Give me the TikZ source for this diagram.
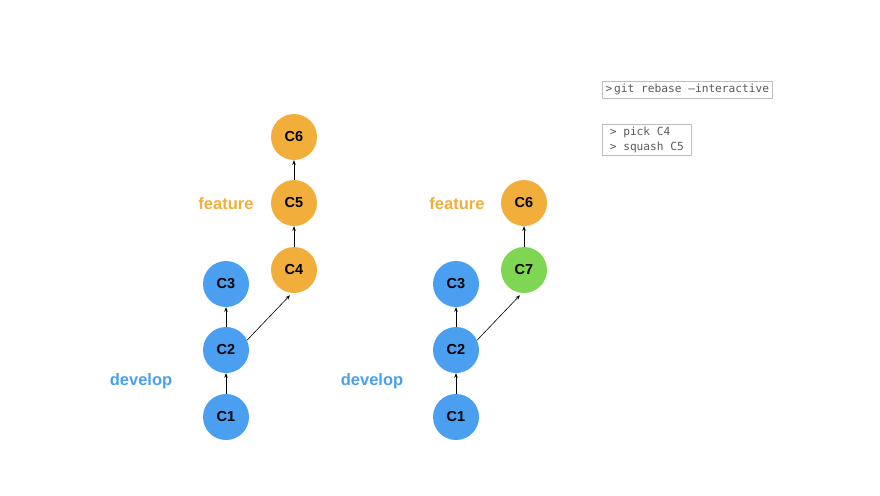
\documentclass[tikz,border=0pt]{standalone}
\usepackage{fontspec}
\setmainfont{Liberation Sans}
\setmonofont{DejaVu Sans Mono}
\usetikzlibrary{arrows.meta}
\definecolor{cblue}{RGB}{74,159,240}
\definecolor{corange}{RGB}{241,174,58}
\definecolor{cgreen}{RGB}{126,214,82}
\definecolor{cgray}{RGB}{90,90,90}
\definecolor{cbox}{RGB}{190,190,190}
\tikzset{
  commit/.style={circle,minimum size=46pt,inner sep=0pt,font=\fontsize{14.5}{16}\selectfont\bfseries,text=black},
  bluec/.style={commit,fill=cblue},
  orangec/.style={commit,fill=corange},
  greenc/.style={commit,fill=cgreen},
  link/.style={-{Stealth[length=4.5pt,width=3.5pt]},line width=0.6pt,black},
  branch/.style={font=\fontsize{16.5}{18}\selectfont\bfseries},
  cmd/.style={draw=cbox,line width=0.7pt,font=\fontsize{11.2}{15}\ttfamily,text=cgray,inner xsep=1.5pt,inner ysep=1pt,align=left,anchor=north west}
}
\begin{document}
\begin{tikzpicture}[x=1pt,y=-1pt]
\useasboundingbox (0,0) rectangle (880,495);
% left graph
\node[bluec] (l1) at (226,417) {C1};
\node[bluec] (l2) at (226,350) {C2};
\node[bluec] (l3) at (226,284) {C3};
\node[orangec] (l4) at (294,270) {C4};
\node[orangec] (l5) at (294,203) {C5};
\node[orangec] (l6) at (294,137) {C6};
\draw[link] (l1) -- (l2);
\draw[link] (l2) -- (l3);
\draw[link,shorten >=3pt] (l2.25) -- (l4.-95);
\draw[link] (l4) -- (l5);
\draw[link] (l5) -- (l6);
\node[branch,text=corange] (lf) at (226,204) {feature};
\node[branch,text=cblue] (ld) at (141,381) {develop};
% right graph
\node[bluec] (r1) at (456,417) {C1};
\node[bluec] (r2) at (456,350) {C2};
\node[bluec] (r3) at (456,284) {C3};
\node[greenc] (r7) at (524,270) {C7};
\node[orangec] (r6) at (524,203) {C6};
\draw[link] (r1) -- (r2);
\draw[link] (r2) -- (r3);
\draw[link,shorten >=3pt] (r2.25) -- (r7.-95);
\draw[link] (r7) -- (r6);
\node[branch,text=corange] (rf) at (457,204) {feature};
\node[branch,text=cblue] (rd) at (372,381) {develop};
% commands
\node[cmd,minimum width=170pt,minimum height=17pt] (c1) at (602,81) {>\,git rebase —interactive};
\node[cmd,minimum width=89pt,minimum height=31pt] (c2) at (602,124) {> pick C4\\> squash C5};
\end{tikzpicture}
\end{document}
